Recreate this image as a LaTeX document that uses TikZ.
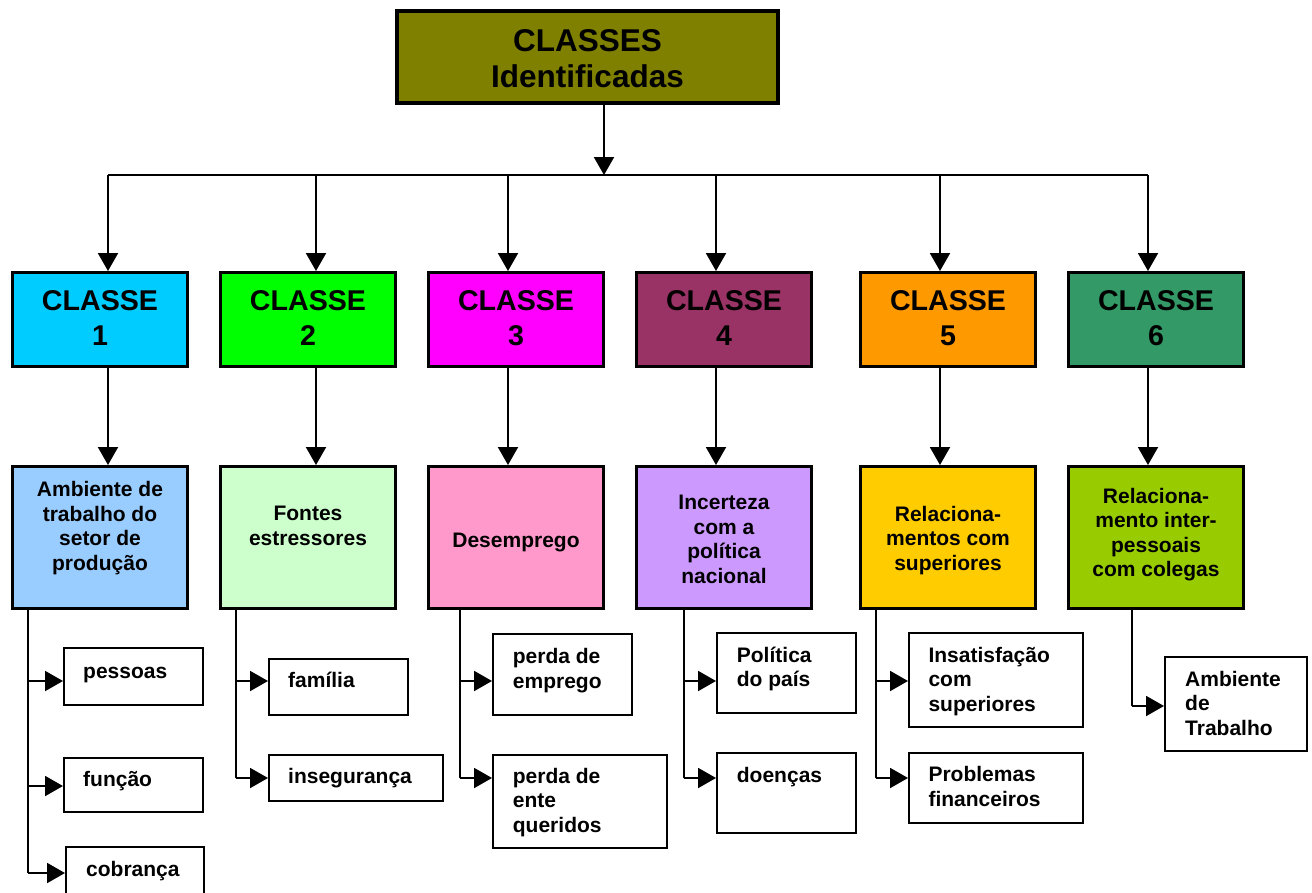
\documentclass[tikz,border=0pt]{standalone}
\usepackage{fontspec}
\setmainfont{Liberation Sans}
\usetikzlibrary{arrows.meta}
% fills of the boxes
\definecolor{topfill}{HTML}{808000}
\definecolor{cfillA}{HTML}{00CCFF}
\definecolor{cfillB}{HTML}{00FF00}
\definecolor{cfillC}{HTML}{FF00FF}
\definecolor{cfillD}{HTML}{993366}
\definecolor{cfillE}{HTML}{FF9900}
\definecolor{cfillF}{HTML}{339966}
\definecolor{tfillA}{HTML}{99CCFF}
\definecolor{tfillB}{HTML}{CCFFCC}
\definecolor{tfillC}{HTML}{FF99CC}
\definecolor{tfillD}{HTML}{CC99FF}
\definecolor{tfillE}{HTML}{FFCC00}
\definecolor{tfillF}{HTML}{99CC00}
\begin{document}
\begin{tikzpicture}[x=1pt,y=-1pt,
  conn/.style={line width=2pt},
  arr/.style={conn,-{Triangle[length=18pt,width=20pt]}},
  topbox/.style={draw,line width=4pt,fill=topfill,inner sep=0pt,
    minimum width=381pt,minimum height=92pt},
  classbox/.style={draw,line width=3.2pt,inner sep=0pt,
    minimum width=174.8pt,minimum height=93.8pt},
  themebox/.style={draw,line width=3.2pt,inner sep=0pt,
    minimum width=174.8pt,minimum height=141.8pt},
  leafbox/.style={draw,line width=1.8pt,inner sep=0pt},
  % text nodes are placed by the baseline of their last line
  toptext/.style={font=\fontsize{31.5}{35.5}\selectfont\bfseries,
    align=center,inner sep=0pt,anchor=base},
  classtext/.style={font=\fontsize{28.6}{34.3}\selectfont\bfseries,
    align=center,inner sep=0pt,anchor=base},
  themetext/.style={font=\fontsize{21}{24.4}\selectfont\bfseries,
    align=center,inner sep=0pt,anchor=base},
  leaftext/.style={font=\fontsize{21}{24.5}\selectfont\bfseries,
    align=left,inner sep=0pt,anchor=base west},
]
\useasboundingbox (0,0) rectangle (1312,892);
\clip (0,0) rectangle (1312,892);

% root
\node[topbox] (top) at (587.5,57) {};
\node[toptext] (toplbl) at (587.5,87) {CLASSES\\Identificadas};

% bus between the root and the classes
\coordinate (k0) at (604,175);
\coordinate (k1) at (108,175);
\coordinate (k2) at (316,175);
\coordinate (k3) at (508,175);
\coordinate (k4) at (716,175);
\coordinate (k5) at (940,175);
\coordinate (k6) at (1148,175);

% classes
\node[classbox,fill=cfillA] (c1) at (100,319.5) {};
\node[classbox,fill=cfillB] (c2) at (308,319.5) {};
\node[classbox,fill=cfillC] (c3) at (516,319.5) {};
\node[classbox,fill=cfillD] (c4) at (724,319.5) {};
\node[classbox,fill=cfillE] (c5) at (948,319.5) {};
\node[classbox,fill=cfillF] (c6) at (1156,319.5) {};
\node[classtext] (c1l) at (100,345)  {CLASSE\\1};
\node[classtext] (c2l) at (308,345)  {CLASSE\\2};
\node[classtext] (c3l) at (516,345)  {CLASSE\\3};
\node[classtext] (c4l) at (724,345)  {CLASSE\\4};
\node[classtext] (c5l) at (948,345)  {CLASSE\\5};
\node[classtext] (c6l) at (1156,345) {CLASSE\\6};

% themes
\node[themebox,fill=tfillA] (s1) at (100,537.5) {};
\node[themebox,fill=tfillB] (s2) at (308,537.5) {};
\node[themebox,fill=tfillC] (s3) at (516,537.5) {};
\node[themebox,fill=tfillD] (s4) at (724,537.5) {};
\node[themebox,fill=tfillE] (s5) at (948,537.5) {};
\node[themebox,fill=tfillF] (s6) at (1156,537.5) {};
\node[themetext] (s1l) at (100,570)   {Ambiente de\\trabalho do\\setor de\\produção};
\node[themetext] (s2l) at (308,545)   {Fontes\\estressores};
\node[themetext] (s3l) at (516,547)   {Desemprego};
\node[themetext] (s4l) at (724,583)   {Incerteza\\com a\\política\\nacional};
\node[themetext] (s5l) at (948,570)   {Relaciona-\\mentos com\\superiores};
\node[themetext] (s6l) at (1156,576.7) {Relaciona-\\mento inter-\\pessoais\\com colegas};

% leaves
\node[leafbox,minimum width=139.2pt,minimum height=57.2pt] (p11) at (133.5,676.5) {};
\node[leafbox,minimum width=139.2pt,minimum height=54.2pt] (p12) at (133.5,785) {};
\node[leafbox,minimum width=138.2pt,minimum height=58.2pt] (p13) at (135,876) {};
\node[leafbox,minimum width=139.2pt,minimum height=56.2pt] (p21) at (338.5,687) {};
\node[leafbox,minimum width=174.2pt,minimum height=46.2pt] (p22) at (356,778) {};
\node[leafbox,minimum width=139.2pt,minimum height=81.2pt] (p31) at (562.5,674.5) {};
\node[leafbox,minimum width=174.2pt,minimum height=93.2pt] (p32) at (580,801.5) {};
\node[leafbox,minimum width=139.2pt,minimum height=80.2pt] (p41) at (786.5,673) {};
\node[leafbox,minimum width=139.2pt,minimum height=80.2pt] (p42) at (786.5,793) {};
\node[leafbox,minimum width=174.2pt,minimum height=94.2pt] (p51) at (996,680) {};
\node[leafbox,minimum width=174.2pt,minimum height=70.2pt] (p52) at (996,788) {};
\node[leafbox,minimum width=142.2pt,minimum height=94.2pt] (p61) at (1236,704) {};

\node[leaftext] (p11l) at (83,678)      {pessoas};
\node[leaftext] (p12l) at (83,786.7)    {função};
\node[leaftext] (p13l) at (86,876.7)    {cobrança};
\node[leaftext] (p21l) at (288,687)     {família};
\node[leaftext] (p22l) at (288,783)     {insegurança};
\node[leaftext] (p31l) at (512.7,688)   {perda de\\emprego};
\node[leaftext] (p32l) at (512.7,832)   {perda de\\ente\\queridos};
\node[leaftext] (p41l) at (736.7,686.7) {Política\\do país};
\node[leaftext] (p42l) at (736.7,782.7) {doenças};
\node[leaftext] (p51l) at (928.3,711)   {Insatisfação\\com\\superiores};
\node[leaftext] (p52l) at (928.3,806)   {Problemas\\financeiros};
\node[leaftext] (p61l) at (1185,735)    {Ambiente\\de\\Trabalho};

% branch points of the leaf trees
\coordinate (j11) at (28,681);
\coordinate (j12) at (28,786);
\coordinate (j13) at (28,873);
\coordinate (j21) at (236,681);
\coordinate (j22) at (236,778);
\coordinate (j31) at (460,681);
\coordinate (j32) at (460,778);
\coordinate (j41) at (684,681);
\coordinate (j42) at (684,778);
\coordinate (j51) at (876,681);
\coordinate (j52) at (876,778);
\coordinate (j61) at (1132,706);

% root to the bus
\draw[arr] (top.south -| k0) -- (k0);
\draw[conn] (k1) -- (k6);

% bus to classes, classes to themes
\foreach \i in {1,...,6}{
  \draw[arr] (k\i) -- (k\i |- c\i.north);
  \draw[arr] (k\i |- c\i.south) -- (k\i |- s\i.north);
}

% theme trunks
\draw[conn] (s1.south -| j13) -- (j13);
\draw[conn] (s2.south -| j22) -- (j22);
\draw[conn] (s3.south -| j32) -- (j32);
\draw[conn] (s4.south -| j42) -- (j42);
\draw[conn] (s5.south -| j52) -- (j52);
\draw[conn] (s6.south -| j61) -- (j61);

% branches into the leaves
\draw[arr] (j11) -- (j11 -| p11.west);
\draw[arr] (j12) -- (j12 -| p12.west);
\draw[arr] (j13) -- (j13 -| p13.west);
\draw[arr] (j21) -- (j21 -| p21.west);
\draw[arr] (j22) -- (j22 -| p22.west);
\draw[arr] (j31) -- (j31 -| p31.west);
\draw[arr] (j32) -- (j32 -| p32.west);
\draw[arr] (j41) -- (j41 -| p41.west);
\draw[arr] (j42) -- (j42 -| p42.west);
\draw[arr] (j51) -- (j51 -| p51.west);
\draw[arr] (j52) -- (j52 -| p52.west);
\draw[arr] (j61) -- (j61 -| p61.west);
\end{tikzpicture}
\end{document}
